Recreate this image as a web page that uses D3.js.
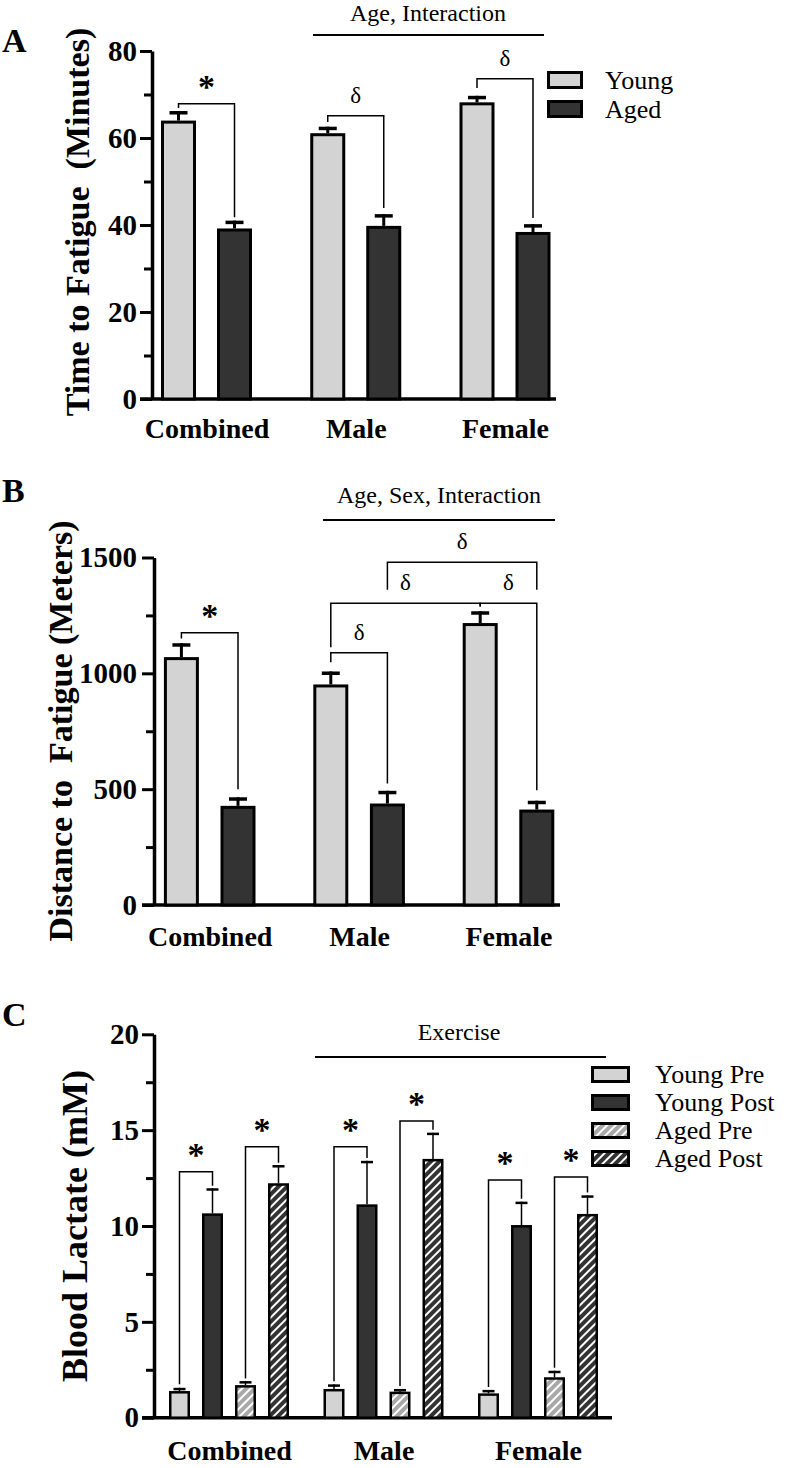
<!DOCTYPE html>
<html lang="en">
<head>
<meta charset="utf-8">
<title>Fatigue and blood lactate</title>
<script src="https://d3js.org/d3.v7.min.js"></script>
<style>
  body { margin: 0; background: #fff; }
  svg text { font-family: "Liberation Serif", "Times New Roman", serif; fill: #000; }
</style>
</head>
<body>
<div id="chart"></div>
<script>
// ============= data =============
var groups = ["Combined", "Male", "Female"];

// A: time to fatigue (minutes), mean and SEM
var timeSeries = ["Young", "Aged"];
var timeYoung = [64.0, 61.1, 68.2];
var timeYoungErr = [2.2, 1.5, 1.5];
var timeAged = [39.2, 39.8, 38.4];
var timeAgedErr = [1.8, 2.7, 1.8];
var timeTicks = [0, 20, 40, 60, 80];
var timeMinor = [10, 30, 50, 70];

// B: distance to fatigue (meters)
var distYoung = [1070, 952, 1217];
var distYoungErr = [60, 56, 51];
var distAged = [428, 438, 412];
var distAgedErr = [37, 55, 38];
var distTicks = [0, 500, 1000, 1500];
var distMinor = [250, 750, 1250];

// C: blood lactate (mM)
var lactSeries = ["Young Pre", "Young Post", "Aged Pre", "Aged Post"];
var lactYoungPre = [1.39, 1.50, 1.27];
var lactYoungPreErr = [0.17, 0.24, 0.18];
var lactYoungPost = [10.66, 11.13, 10.05];
var lactYoungPostErr = [1.31, 2.27, 1.22];
var lactAgedPre = [1.70, 1.36, 2.11];
var lactAgedPreErr = [0.21, 0.14, 0.34];
var lactAgedPost = [12.23, 13.50, 10.63];
var lactAgedPostErr = [0.95, 1.37, 0.97];
var lactTicks = [0, 5, 10, 15, 20];
var lactMinor = [2.5, 7.5, 12.5, 17.5];

// significance brackets: group/series index of each end, bracket level and leg ends in data units
var timeBrackets = [
  { g1: 0, s1: 0, g2: 0, s2: 1, level: 67.9, end1: 66.9, end2: 41.8, label: "*" },
  { g1: 1, s1: 0, g2: 1, s2: 1, level: 65.1, end1: 63.7, end2: 43.9, label: "δ" },
  { g1: 2, s1: 0, g2: 2, s2: 1, level: 73.6, end1: 71.5, end2: 41.6, label: "δ" }
];
var distBrackets = [
  { g1: 0, s1: 0, g2: 0, s2: 1, level: 1175, end1: 1150, end2: 500, label: "*" },
  { g1: 1, s1: 0, g2: 1, s2: 1, level: 1089, end1: 1048, end2: 524, label: "δ" },
  { g1: 1, s1: 0, g2: 2, s2: 0, level: 1302, end1: 1113, end2: 1288, label: "δ" },
  { g1: 2, s1: 0, g2: 2, s2: 1, level: 1302, end1: 1288, end2: 495, label: "δ" },
  { g1: 1, s1: 1, g2: 2, s2: 1, level: 1479, end1: 1361, end2: 1361, label: "δ" }
];
var lactBrackets = [
  { g1: 0, s1: 0, g2: 0, s2: 1, level: 12.83, end1: 1.75, end2: 12.10, label: "*" },
  { g1: 0, s1: 2, g2: 0, s2: 3, level: 14.14, end1: 2.05, end2: 13.30, label: "*" },
  { g1: 1, s1: 0, g2: 1, s2: 1, level: 14.14, end1: 1.90, end2: 13.55, label: "*" },
  { g1: 1, s1: 2, g2: 1, s2: 3, level: 15.48, end1: 1.65, end2: 15.02, label: "*" },
  { g1: 2, s1: 0, g2: 2, s2: 1, level: 12.40, end1: 1.60, end2: 11.42, label: "*" },
  { g1: 2, s1: 2, g2: 2, s2: 3, level: 12.56, end1: 2.60, end2: 11.75, label: "*" }
];

// ============= drawing =============
var width = 788, height = 1468;
var serif = "'Liberation Serif', 'Times New Roman', serif";
var svg = d3.select("#chart").append("svg")
  .attr("width", width)
  .attr("height", height);

// hatch patterns for the aged bars of panel C
var defs = svg.append("defs");
function hatch(id, base) {
  var p = defs.append("pattern")
    .attr("id", id)
    .attr("patternUnits", "userSpaceOnUse")
    .attr("width", 6).attr("height", 6)
    .attr("patternTransform", "rotate(45)");
  p.append("rect").attr("width", 6).attr("height", 6).attr("fill", base);
  p.append("line").attr("x1", 1).attr("y1", 0).attr("x2", 1).attr("y2", 6)
    .attr("stroke", "#fff").attr("stroke-width", 2);
}
hatch("hatchLight", "#a9a9a9");
hatch("hatchDark", "#333");

function drawPanel(cfg, names, means, errs, brackets) {
  var g = svg.append("g");

  var y = d3.scaleLinear().domain(cfg.domain).range([cfg.yBottom, cfg.yTop]);
  var x0 = d3.scalePoint().domain(groups).range(cfg.groupRange);
  var x1 = d3.scalePoint().domain(names).range(cfg.seriesRange);
  function cx(gi, si) { return x0(groups[gi]) + x1(names[si]); }

  // panel letter
  g.append("text")
    .attr("x", 2).attr("y", cfg.letterY)
    .style("font-size", "34px").style("font-weight", "bold")
    .text(cfg.letter);

  // y axis
  var ax = g.append("g")
    .attr("transform", "translate(" + cfg.left + ",0)")
    .call(d3.axisLeft(y).tickValues(cfg.ticks).tickFormat(d3.format("d"))
      .tickSize(12).tickSizeOuter(0).tickPadding(cfg.tickPad))
    .attr("font-family", serif);
  ax.select(".domain").attr("stroke-width", 3.5);
  ax.selectAll(".tick line").attr("stroke-width", 3);
  ax.selectAll(".tick text")
    .style("font-size", "29px").style("font-weight", "bold");

  var minor = g.append("g")
    .attr("transform", "translate(" + cfg.left + ",0)")
    .call(d3.axisLeft(y).tickValues(cfg.minor).tickSize(8).tickFormat(""));
  minor.select(".domain").remove();
  minor.selectAll(".tick line").attr("stroke-width", 3);

  // x axis: baseline and group labels
  g.append("line")
    .attr("x1", cfg.left - 12).attr("x2", cfg.xRight)
    .attr("y1", y(0)).attr("y2", y(0))
    .attr("stroke", "#000").attr("stroke-width", 3.5);
  var xa = g.append("g")
    .attr("transform", "translate(0," + y(0) + ")")
    .call(d3.axisBottom(x0).tickSize(0).tickPadding(cfg.labelPad))
    .attr("font-family", serif);
  xa.select(".domain").remove();
  xa.selectAll(".tick text")
    .style("font-size", "28px").style("font-weight", "bold");

  // y title
  g.append("text")
    .attr("transform", "translate(" + cfg.titleX + "," + cfg.titleY + ") rotate(-90)")
    .attr("text-anchor", "middle")
    .attr("xml:space", "preserve")
    .style("white-space", "pre")
    .style("font-size", cfg.titleSize + "px").style("font-weight", "bold")
    .text(cfg.title);

  // bars + error bars
  names.forEach(function(name, si) {
    var bars = g.append("g");
    bars.selectAll("rect")
      .data(means[si])
      .enter().append("rect")
        .attr("x", function(d, gi) { return cx(gi, si) - cfg.barW / 2 + cfg.barStroke / 2; })
        .attr("y", function(d) { return y(d) + cfg.barStroke / 2; })
        .attr("width", cfg.barW - cfg.barStroke)
        .attr("height", function(d) { return y(0) - y(d) - cfg.barStroke / 2; })
        .attr("fill", cfg.fills[si])
        .attr("stroke", "#000")
        .attr("stroke-width", cfg.barStroke);

    means[si].forEach(function(m, gi) {
      var top = y(m + errs[si][gi]);
      bars.append("line")
        .attr("x1", cx(gi, si)).attr("x2", cx(gi, si))
        .attr("y1", y(m)).attr("y2", top)
        .attr("stroke", "#000").attr("stroke-width", cfg.errW);
      bars.append("line")
        .attr("x1", cx(gi, si) - cfg.capW / 2).attr("x2", cx(gi, si) + cfg.capW / 2)
        .attr("y1", top + cfg.capStroke / 2).attr("y2", top + cfg.capStroke / 2)
        .attr("stroke", "#000").attr("stroke-width", cfg.capStroke);
    });
  });

  // significance brackets
  brackets.forEach(function(b) {
    var xa1 = cx(b.g1, b.s1), xa2 = cx(b.g2, b.s2), yl = y(b.level);
    g.append("path")
      .attr("d", "M" + xa1 + "," + y(b.end1) + "V" + yl + "H" + xa2 + "V" + y(b.end2))
      .attr("fill", "none").attr("stroke", "#000").attr("stroke-width", 1.5);
    var star = b.label === "*";
    g.append("text")
      .attr("x", (xa1 + xa2) / 2)
      .attr("y", yl - (star ? 6 : 13))
      .attr("text-anchor", "middle")
      .style("font-size", star ? "34px" : "23px")
      .style("font-weight", star ? "bold" : "normal")
      .text(b.label);
  });

  // main-effect label with line
  g.append("text")
    .attr("x", cfg.effect.textX).attr("y", cfg.effect.textY)
    .attr("text-anchor", "middle")
    .style("font-size", "24px")
    .text(cfg.effect.text);
  g.append("line")
    .attr("x1", cfg.effect.x1).attr("x2", cfg.effect.x2)
    .attr("y1", cfg.effect.y).attr("y2", cfg.effect.y)
    .attr("stroke", "#000").attr("stroke-width", 2);

  // legend
  if (cfg.legend) {
    var lg = g.append("g");
    names.forEach(function(name, si) {
      var ly = cfg.legend.y + si * cfg.legend.step;
      lg.append("rect")
        .attr("x", cfg.legend.x + 1.5).attr("y", ly + 1.5)
        .attr("width", cfg.legend.w - 3).attr("height", cfg.legend.h - 3)
        .attr("fill", cfg.fills[si])
        .attr("stroke", "#000").attr("stroke-width", 3);
      lg.append("text")
        .attr("x", cfg.legend.textX).attr("y", ly + cfg.legend.h)
        .style("font-size", "26px")
        .text(name);
    });
  }
}

// ---- Panel A ----
drawPanel({
  letter: "A", letterY: 52,
  domain: [0, 80], ticks: timeTicks, minor: timeMinor,
  yTop: 51, yBottom: 399, left: 152, xRight: 556, tickPad: 3,
  groupRange: [206.5, 505], seriesRange: [-28, 28],
  barW: 35, barStroke: 3, errW: 3, capW: 18, capStroke: 3.5,
  fills: ["#d3d3d3", "#333"],
  title: "Time to Fatigue  (Minutes)", titleX: 89, titleY: 222, titleSize: 34,
  labelPad: 19,
  effect: { text: "Age, Interaction", textX: 428, textY: 21, x1: 313, x2: 544, y: 35 },
  legend: { x: 547, y: 71, w: 36, h: 18, step: 29, textX: 605 }
}, timeSeries, [timeYoung, timeAged], [timeYoungErr, timeAgedErr], timeBrackets);

// ---- Panel B ----
drawPanel({
  letter: "B", letterY: 502,
  domain: [0, 1500], ticks: distTicks, minor: distMinor,
  yTop: 557.5, yBottom: 905, left: 154, xRight: 560, tickPad: 5,
  groupRange: [209.7, 508.5], seriesRange: [-28.3, 28.3],
  barW: 35, barStroke: 3, errW: 3, capW: 18, capStroke: 3.5,
  fills: ["#d3d3d3", "#333"],
  title: "Distance to  Fatigue (Meters)", titleX: 72, titleY: 731, titleSize: 34,
  labelPad: 21,
  effect: { text: "Age, Sex, Interaction", textX: 439, textY: 503, x1: 323, x2: 555, y: 520 },
  legend: null
}, timeSeries, [distYoung, distAged], [distYoungErr, distAgedErr], distBrackets);

// ---- Panel C ----
drawPanel({
  letter: "C", letterY: 1026,
  domain: [0, 20], ticks: lactTicks, minor: lactMinor,
  yTop: 1034.3, yBottom: 1417.7, left: 154, xRight: 612, tickPad: 3,
  groupRange: [229, 538], seriesRange: [-49.5, 49.5],
  barW: 21, barStroke: 2.5, errW: 1.5, capW: 12, capStroke: 2.5,
  fills: ["#d3d3d3", "#333", "url(#hatchLight)", "url(#hatchDark)"],
  title: "Blood Lactate (mM)", titleX: 87, titleY: 1226, titleSize: 36,
  labelPad: 22,
  effect: { text: "Exercise", textX: 459, textY: 1040, x1: 315, x2: 606, y: 1057 },
  legend: { x: 591, y: 1066, w: 39, h: 17, step: 28, textX: 655 }
}, lactSeries,
  [lactYoungPre, lactYoungPost, lactAgedPre, lactAgedPost],
  [lactYoungPreErr, lactYoungPostErr, lactAgedPreErr, lactAgedPostErr],
  lactBrackets);
</script>
</body>
</html>
